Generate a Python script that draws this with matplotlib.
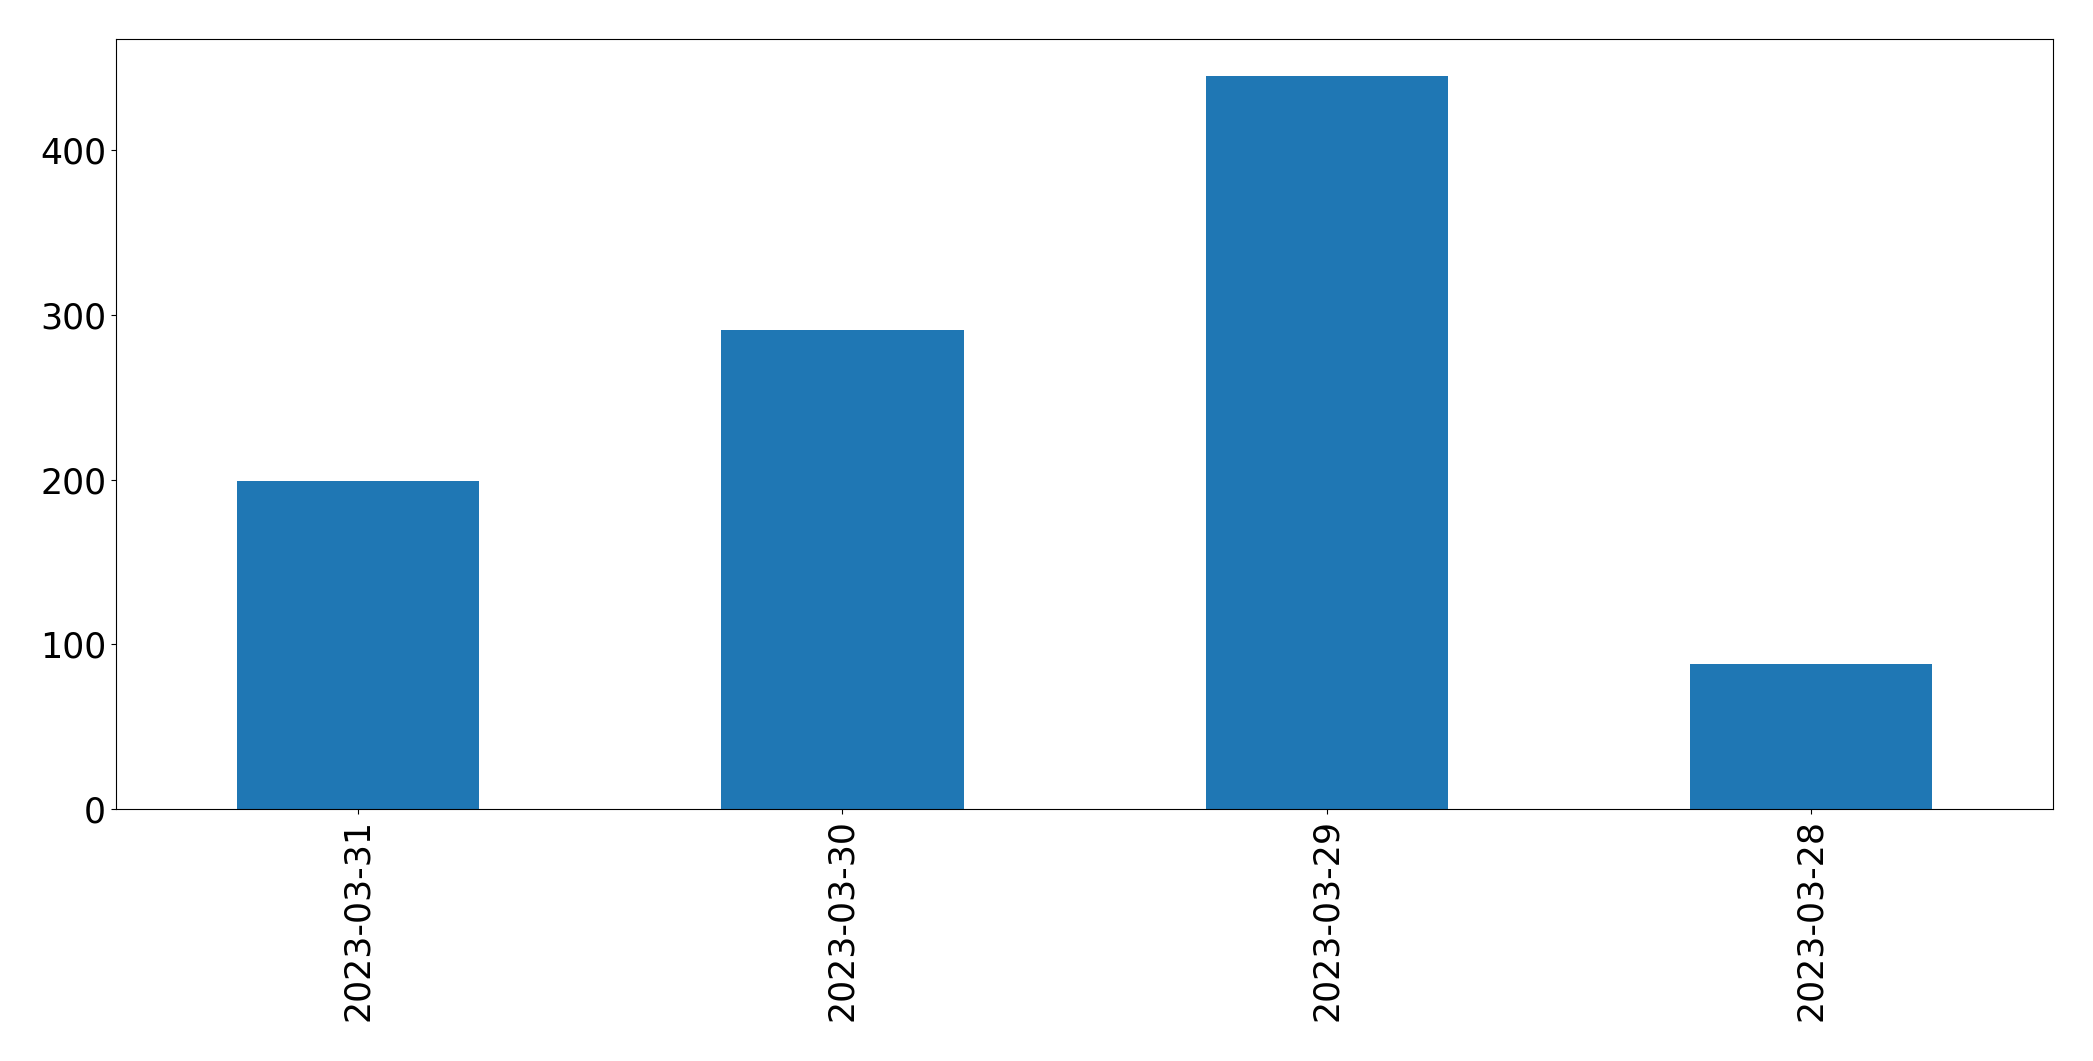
import numpy as np
import matplotlib
matplotlib.use("Agg")
import matplotlib.pyplot as plt

dates = ["2023-03-31", "2023-03-30", "2023-03-29", "2023-03-28"]
counts = [199, 291, 445, 88]

fig = plt.figure(figsize=(20.93, 10.61), dpi=100)
ax = fig.add_axes([0.0554, 0.2373, 0.9256, 0.7259])
x = np.arange(len(dates))
ax.bar(x, counts, width=0.5, color="#1f77b4")
ax.set_xlim(-0.5, len(dates) - 0.5)
ax.set_xticks(x)
ax.set_xticklabels(dates, rotation=90)
ax.tick_params(labelsize=25)
ax.set_yticks([0, 100, 200, 300, 400])

fig.savefig("out.png", dpi=100)
